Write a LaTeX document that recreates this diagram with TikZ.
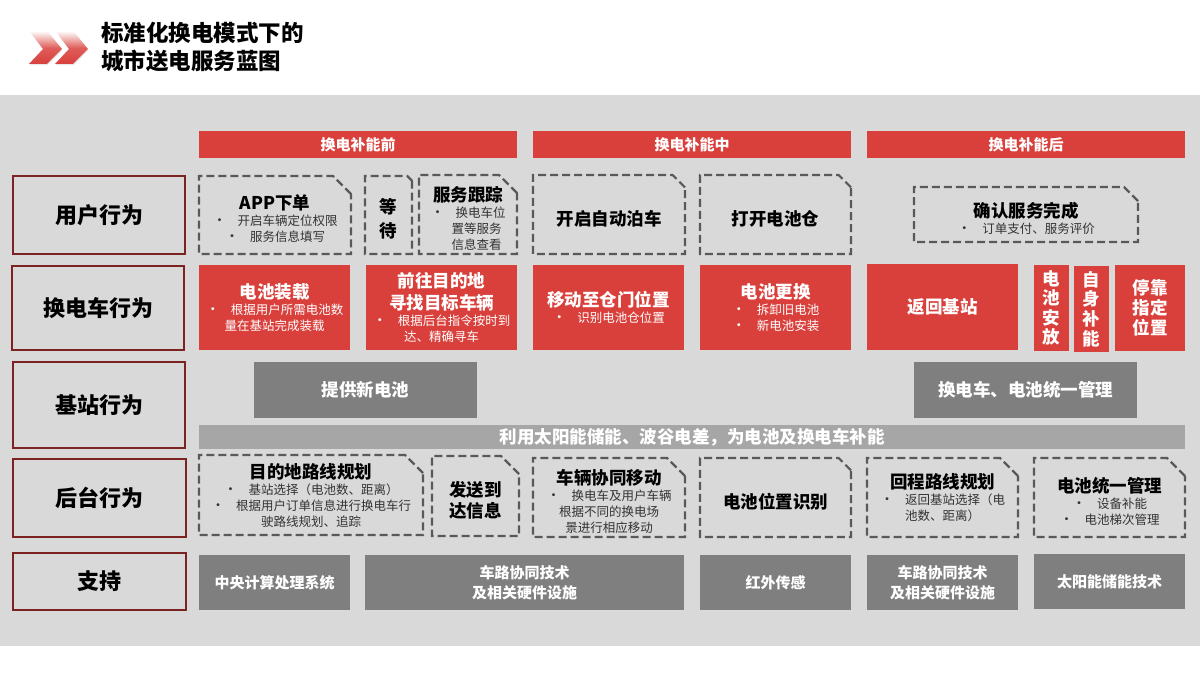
\documentclass[tikz,border=0pt]{standalone}
\usepackage{fontspec}
\setmainfont{Noto Sans CJK SC}
\usetikzlibrary{shapes.misc}

\definecolor{panelgray}{HTML}{D9D9D9}
\definecolor{blockred}{HTML}{D9403C}
\definecolor{rowred}{HTML}{7B2320}
\definecolor{dashgray}{HTML}{595959}
\definecolor{darkgray}{HTML}{7F7F7F}
\definecolor{bandgray}{HTML}{A6A6A6}

\newcommand{\boxhead}[1]{{\fontsize{17.5}{20}\selectfont\bfseries\color{black} #1}}
\newcommand{\pushdown}{\rule{0pt}{23pt}}
\newcommand{\whead}[1]{{\fontsize{17.5}{20}\selectfont\bfseries\color{white} #1}}
\newcommand{\bul}{{\fontsize{14}{9}\selectfont •}\hspace{11pt}}

\tikzset{
	x=1pt, y=-1pt,
	base/.style={anchor=north west, inner sep=0pt, outer sep=0pt, align=center,
		font=\fontsize{12.5}{16}\selectfont},
	rowbox/.style={base, draw=rowred, line width=2.4pt, fill=panelgray,
		font=\fontsize{22}{26}\selectfont\bfseries},
	phasebox/.style={base, fill=blockred, text=white, minimum height=27,
		minimum width=318, font=\fontsize{15}{18}\selectfont\bfseries},
	dashbox/.style={base, chamfered rectangle, chamfered rectangle corners=north east,
		chamfered rectangle xsep=9pt, chamfered rectangle ysep=9pt, inner sep=-9pt,
		draw=dashgray, line width=2.2pt, dash pattern=on 8pt off 4pt, text=black!80},
	redbox/.style={base, fill=blockred, text=white},
	graybox/.style={base, fill=darkgray, text=white, font=\fontsize{17.5}{21}\selectfont\bfseries},
	supportbox/.style={graybox, font=\fontsize{15}{20}\selectfont\bfseries},
}

\begin{document}
\begin{tikzpicture}
	\useasboundingbox (0,0) rectangle (1200,676);
	\fill[white] (0,0) rectangle (1200,676);
	\fill[panelgray] (0,95) rectangle (1200,646);
	% Draw the title and its arrows
	\foreach \dx in {0,26} {
		\fill[black!30, opacity=.3, shift={(\dx+.8,1.2)}]
			(38,42) -- (48,42) -- (62,49) -- (47,64) -- (29,64) -- (43,49) -- cycle;
		\shade[top color=blockred!5, bottom color=blockred, middle color=blockred!85, shift={(\dx,0)}]
			(30,32) -- (48,32) -- (62,49) -- (47,64) -- (29,64) -- (43,49) -- cycle;
	}
	\node[base, anchor=west, align=left, font=\fontsize{22.5}{28}\selectfont\bfseries] (title) at (101,47)
		{标准化换电模式下的\\城市送电服务蓝图};
	% Draw the phases
	\node[phasebox] (before) at (199,131) {换电补能前};
	\node[phasebox] (during) at (533,131) {换电补能中};
	\node[phasebox] (after)  at (867,131) {换电补能后};
	% Draw the rows
	\node[rowbox, minimum width=172, minimum height=78] (user)    at (13,176) {用户行为};
	\node[rowbox, minimum width=172, minimum height=84] (van)     at (12,266) {换电车行为};
	\node[rowbox, minimum width=172, minimum height=86] (station) at (13,362) {基站行为};
	\node[rowbox, minimum width=173, minimum height=78] (backend) at (13,459) {后台行为};
	\node[rowbox, minimum width=173, minimum height=57] (support) at (13,553) {支持};
	% User actions
	\node[dashbox, minimum width=152, minimum height=78] (order) at (199,176)
		{\pushdown\boxhead{APP下单}\\\bul 开启车辆定位权限\\\bul 服务信息填写};
	\node[dashbox, minimum width=47, minimum height=78, chamfered rectangle xsep=5pt, chamfered rectangle ysep=5pt] (wait) at (365,176)
		{\pushdown\boxhead{等}\\[6pt]\boxhead{待}};
	\node[dashbox, minimum width=98, minimum height=79] (track) at (419,175)
		{\pushdown\boxhead{服务跟踪}\\\bul 换电车位\\\hspace{17pt}置等服务\\\hspace{17pt}信息查看};
	\node[dashbox, minimum width=152, minimum height=79] (park) at (533,175) {\pushdown\boxhead{开启自动泊车}};
	\node[dashbox, minimum width=151, minimum height=79] (hatch) at (700,175) {\pushdown\boxhead{打开电池仓}};
	\node[dashbox, minimum width=224, minimum height=55, chamfered rectangle xsep=7pt, chamfered rectangle ysep=7pt] (confirm) at (914,187)
		{\pushdown\boxhead{确认服务完成}\\\bul 订单支付、服务评价};
	% Van actions
	\node[redbox, minimum width=151, minimum height=85] (load) at (199,265)
		{\whead{电池装载}\\\bul 根据用户所需电池数\\量在基站完成装载};
	\node[redbox, minimum width=151, minimum height=85] (seek) at (366,265)
		{\whead{前往目的地}\\[4pt]\whead{寻找目标车辆}\\\bul 根据后台指令按时到\\达、精确寻车};
	\node[redbox, minimum width=151, minimum height=85] (move) at (533,265)
		{\whead{移动至仓门位置}\\\bul 识别电池仓位置};
	\node[redbox, minimum width=151, minimum height=85] (swap) at (700,265)
		{\whead{电池更换}\\\bul 拆卸旧电池\\\bul 新电池安装};
	\node[redbox, minimum width=151, minimum height=86] (return) at (867,264) {\whead{返回基站}};
	\node[redbox, minimum width=35, minimum height=86] (place) at (1034,265)
		{\whead{电}\\[2pt]\whead{池}\\[2pt]\whead{安}\\[2pt]\whead{放}};
	\node[redbox, minimum width=35, minimum height=86] (charge) at (1074,266)
		{\whead{自}\\[2pt]\whead{身}\\[2pt]\whead{补}\\[2pt]\whead{能}};
	\node[redbox, minimum width=70, minimum height=86] (dock) at (1115,265)
		{\whead{停靠}\\[2pt]\whead{指定}\\[2pt]\whead{位置}};
	% Station actions
	\node[graybox, minimum width=223, minimum height=56] (newcell) at (254,362) {提供新电池};
	\node[graybox, minimum width=223, minimum height=56] (manage) at (914,362) {换电车、电池统一管理};
	\node[graybox, fill=bandgray, minimum width=986, minimum height=24, font=\fontsize{17.5}{20}\selectfont\bfseries] (solar) at (199,425)
		{利用太阳能储能、波谷电差，为电池及换电车补能};
	% Backend actions
	\node[dashbox, minimum width=224, minimum height=80] (route) at (199,455)
		{\boxhead{目的地路线规划}\\\bul 基站选择（电池数、距离）\\\bul 根据用户订单信息进行换电车行\\驶路线规划、追踪};
	\node[dashbox, minimum width=87, minimum height=80] (notify) at (432,456)
		{\pushdown\boxhead{发送到}\\[3pt]\boxhead{达信息}};
	\node[dashbox, minimum width=152, minimum height=79] (sync) at (533,458)
		{\pushdown\boxhead{车辆协同移动}\\\bul 换电车及用户车辆\\根据不同的换电场\\景进行相应移动};
	\node[dashbox, minimum width=151, minimum height=79] (locate) at (700,458) {\pushdown\boxhead{电池位置识别}};
	\node[dashbox, minimum width=151, minimum height=79] (back) at (867,458)
		{\boxhead{回程路线规划}\\\bul 返回基站选择（电\\池数、距离）};
	\node[dashbox, minimum width=151, minimum height=79] (unify) at (1034,458)
		{\pushdown\boxhead{电池统一管理}\\\bul 设备补能\\\bul 电池梯次管理};
	% Support
	\node[supportbox, minimum width=151, minimum height=55] (cpu) at (199,555) {中央计算处理系统};
	\node[supportbox, minimum width=319, minimum height=55] (v2x) at (365,555) {车路协同技术\\及相关硬件设施};
	\node[supportbox, minimum width=151, minimum height=55] (ir) at (700,555) {红外传感};
	\node[supportbox, minimum width=151, minimum height=55] (v2xb) at (867,555) {车路协同技术\\及相关硬件设施};
	\node[supportbox, minimum width=151, minimum height=55] (storage) at (1034,554) {太阳能储能技术};
\end{tikzpicture}
\end{document}
